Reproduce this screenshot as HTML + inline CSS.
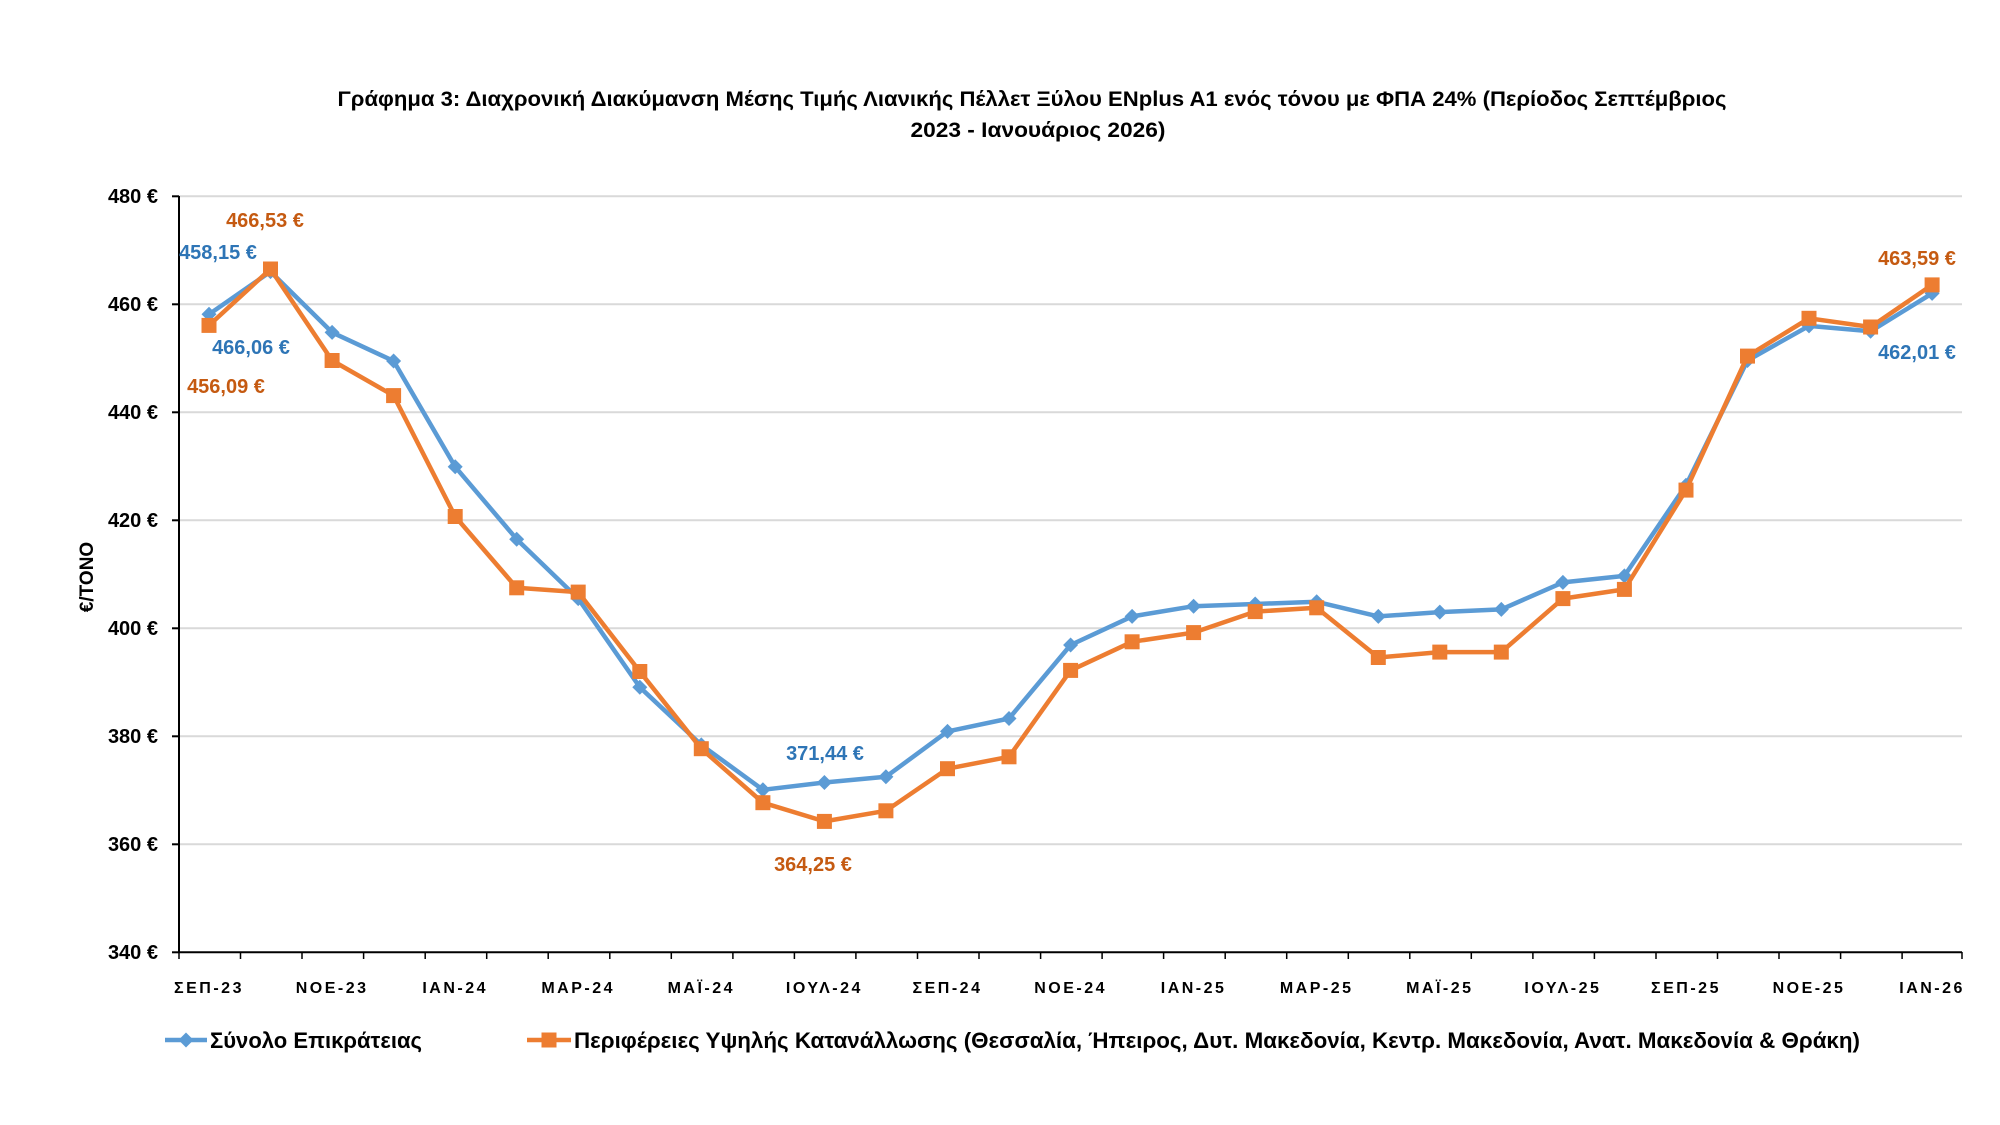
<!DOCTYPE html>
<html><head><meta charset="utf-8"><style>
html,body{margin:0;padding:0;background:#fff;}
svg{display:block;font-family:"Liberation Sans","DejaVu Sans",sans-serif;font-weight:bold;}
</style></head><body>
<svg width="2000" height="1125" viewBox="0 0 2000 1125" xmlns="http://www.w3.org/2000/svg">
<rect width="2000" height="1125" fill="#fff"/>
<text x="1032" y="106" font-size="21" text-anchor="middle" textLength="1389" lengthAdjust="spacingAndGlyphs">Γράφημα 3: Διαχρονική Διακύμανση Μέσης Τιμής Λιανικής Πέλλετ Ξύλου ENplus A1 ενός τόνου με ΦΠΑ 24% (Περίοδος Σεπτέμβριος</text>
<text x="1038" y="137" font-size="21" text-anchor="middle" textLength="255" lengthAdjust="spacingAndGlyphs">2023 - Ιανουάριος 2026)</text>
<g stroke="#d9d9d9" stroke-width="2">
<line x1="179" x2="1962" y1="196.3" y2="196.3"/><line x1="179" x2="1962" y1="304.3" y2="304.3"/>
<line x1="179" x2="1962" y1="412.3" y2="412.3"/><line x1="179" x2="1962" y1="520.3" y2="520.3"/>
<line x1="179" x2="1962" y1="628.3" y2="628.3"/><line x1="179" x2="1962" y1="736.3" y2="736.3"/>
<line x1="179" x2="1962" y1="844.3" y2="844.3"/>
</g>
<g stroke="#000" stroke-width="2">
<line x1="179" x2="179" y1="196" y2="952.3"/>
<line x1="179" x2="1962" y1="952.3" y2="952.3"/>
<line x1="172" x2="179" y1="196.3" y2="196.3"/><line x1="172" x2="179" y1="304.3" y2="304.3"/>
<line x1="172" x2="179" y1="412.3" y2="412.3"/><line x1="172" x2="179" y1="520.3" y2="520.3"/>
<line x1="172" x2="179" y1="628.3" y2="628.3"/><line x1="172" x2="179" y1="736.3" y2="736.3"/>
<line x1="172" x2="179" y1="844.3" y2="844.3"/><line x1="172" x2="179" y1="952.3" y2="952.3"/>
</g>
<path stroke="#000" stroke-width="1.5" d="M179 952v7M240.5 952v7M302 952v7M363.6 952v7M425.2 952v7M486.7 952v7M548.2 952v7M609.8 952v7M671.3 952v7M732.9 952v7M794.4 952v7M855.9 952v7M917.5 952v7M979 952v7M1040.6 952v7M1102.1 952v7M1163.6 952v7M1225.2 952v7M1286.7 952v7M1348.3 952v7M1409.8 952v7M1471.3 952v7M1532.9 952v7M1594.4 952v7M1656 952v7M1717.5 952v7M1779 952v7M1840.6 952v7M1902.1 952v7M1962 952v7"/>
<g font-size="20" text-anchor="end">
<text x="158" y="203">480 €</text><text x="158" y="311">460 €</text><text x="158" y="419">440 €</text>
<text x="158" y="527">420 €</text><text x="158" y="635">400 €</text><text x="158" y="743">380 €</text>
<text x="158" y="851">360 €</text><text x="158" y="959">340 €</text>
</g>
<text transform="translate(93,577) rotate(-90)" font-size="19" text-anchor="middle">€/ΤΟΝΟ</text>
<g font-size="16" text-anchor="middle" letter-spacing="2.5">
<text x="209" y="993">ΣΕΠ-23</text><text x="332.1" y="993">ΝΟΕ-23</text><text x="455.2" y="993">ΙΑΝ-24</text>
<text x="578.2" y="993">ΜΑΡ-24</text><text x="701.3" y="993">ΜΑΪ-24</text><text x="824.4" y="993">ΙΟΥΛ-24</text>
<text x="947.5" y="993">ΣΕΠ-24</text><text x="1070.6" y="993">ΝΟΕ-24</text><text x="1193.6" y="993">ΙΑΝ-25</text>
<text x="1316.7" y="993">ΜΑΡ-25</text><text x="1439.8" y="993">ΜΑΪ-25</text><text x="1562.9" y="993">ΙΟΥΛ-25</text>
<text x="1686" y="993">ΣΕΠ-25</text><text x="1809" y="993">ΝΟΕ-25</text><text x="1932.1" y="993">ΙΑΝ-26</text>
</g>
<defs>
<path id="dm" d="M0 -7.5L7.5 0L0 7.5L-7.5 0Z" fill="#5B9BD5"/>
<rect id="sq" x="-7.5" y="-7.5" width="15" height="15" fill="#ED7D31"/>
</defs>
<polyline fill="none" stroke="#5B9BD5" stroke-width="4.5" stroke-linejoin="round" points="209,314.3 270.5,271.6 332.1,332.4 393.6,361 455.2,466.8 516.7,539.2 578.2,598.6 639.8,687.2 701.3,744.9 762.9,789.8 824.4,782.5 885.9,776.8 947.5,731.4 1009,718.5 1070.6,645 1132.1,616.4 1193.6,606.2 1255.2,604 1316.7,601.8 1378.3,616.4 1439.8,612.1 1501.3,609.4 1562.9,582.4 1624.4,575.9 1686,485.2 1747.5,360.5 1809,325.9 1870.6,331.3 1932.1,293.4"/>
<g>
<use href="#dm" x="209" y="314.3"/><use href="#dm" x="270.5" y="271.6"/><use href="#dm" x="332.1" y="332.4"/><use href="#dm" x="393.6" y="361"/><use href="#dm" x="455.2" y="466.8"/><use href="#dm" x="516.7" y="539.2"/><use href="#dm" x="578.2" y="598.6"/><use href="#dm" x="639.8" y="687.2"/><use href="#dm" x="701.3" y="744.9"/><use href="#dm" x="762.9" y="789.8"/><use href="#dm" x="824.4" y="782.5"/><use href="#dm" x="885.9" y="776.8"/><use href="#dm" x="947.5" y="731.4"/><use href="#dm" x="1009" y="718.5"/><use href="#dm" x="1070.6" y="645"/><use href="#dm" x="1132.1" y="616.4"/><use href="#dm" x="1193.6" y="606.2"/><use href="#dm" x="1255.2" y="604"/><use href="#dm" x="1316.7" y="601.8"/><use href="#dm" x="1378.3" y="616.4"/><use href="#dm" x="1439.8" y="612.1"/><use href="#dm" x="1501.3" y="609.4"/><use href="#dm" x="1562.9" y="582.4"/><use href="#dm" x="1624.4" y="575.9"/><use href="#dm" x="1686" y="485.2"/><use href="#dm" x="1747.5" y="360.5"/><use href="#dm" x="1809" y="325.9"/><use href="#dm" x="1870.6" y="331.3"/><use href="#dm" x="1932.1" y="293.4"/>
</g>
<polyline fill="none" stroke="#ED7D31" stroke-width="4.5" stroke-linejoin="round" points="209,325.4 270.5,269 332.1,360.5 393.6,395.6 455.2,516.5 516.7,587.8 578.2,592.1 639.8,671.5 701.3,748.7 762.9,802.7 824.4,821.4 885.9,810.8 947.5,768.7 1009,756.8 1070.6,670.4 1132.1,641.8 1193.6,632.6 1255.2,611.6 1316.7,607.8 1378.3,657.5 1439.8,652.1 1501.3,652.1 1562.9,598.6 1624.4,589.4 1686,490.1 1747.5,356.1 1809,318.3 1870.6,327 1932.1,284.9"/>
<g>
<use href="#sq" x="209" y="325.4"/><use href="#sq" x="270.5" y="269"/><use href="#sq" x="332.1" y="360.5"/><use href="#sq" x="393.6" y="395.6"/><use href="#sq" x="455.2" y="516.5"/><use href="#sq" x="516.7" y="587.8"/><use href="#sq" x="578.2" y="592.1"/><use href="#sq" x="639.8" y="671.5"/><use href="#sq" x="701.3" y="748.7"/><use href="#sq" x="762.9" y="802.7"/><use href="#sq" x="824.4" y="821.4"/><use href="#sq" x="885.9" y="810.8"/><use href="#sq" x="947.5" y="768.7"/><use href="#sq" x="1009" y="756.8"/><use href="#sq" x="1070.6" y="670.4"/><use href="#sq" x="1132.1" y="641.8"/><use href="#sq" x="1193.6" y="632.6"/><use href="#sq" x="1255.2" y="611.6"/><use href="#sq" x="1316.7" y="607.8"/><use href="#sq" x="1378.3" y="657.5"/><use href="#sq" x="1439.8" y="652.1"/><use href="#sq" x="1501.3" y="652.1"/><use href="#sq" x="1562.9" y="598.6"/><use href="#sq" x="1624.4" y="589.4"/><use href="#sq" x="1686" y="490.1"/><use href="#sq" x="1747.5" y="356.1"/><use href="#sq" x="1809" y="318.3"/><use href="#sq" x="1870.6" y="327"/><use href="#sq" x="1932.1" y="284.9"/>
</g>
<g font-size="20" text-anchor="middle">
<text x="265" y="227" fill="#C55A11">466,53 €</text>
<text x="218" y="259" fill="#2E75B6">458,15 €</text>
<text x="251" y="354" fill="#2E75B6">466,06 €</text>
<text x="226" y="393" fill="#C55A11">456,09 €</text>
<text x="825" y="760" fill="#2E75B6">371,44 €</text>
<text x="813" y="871" fill="#C55A11">364,25 €</text>
<text x="1917" y="265" fill="#C55A11">463,59 €</text>
<text x="1917" y="359" fill="#2E75B6">462,01 €</text>
</g>
<line x1="165" x2="207" y1="1040" y2="1040" stroke="#5B9BD5" stroke-width="4.5"/>
<use href="#dm" x="186" y="1040"/>
<text x="210" y="1048" font-size="22" textLength="212" lengthAdjust="spacingAndGlyphs">Σύνολο Επικράτειας</text>
<line x1="527" x2="571" y1="1040" y2="1040" stroke="#ED7D31" stroke-width="4.5"/>
<use href="#sq" x="549" y="1040"/>
<text x="574" y="1048" font-size="22" textLength="1286" lengthAdjust="spacingAndGlyphs">Περιφέρειες Υψηλής Κατανάλλωσης (Θεσσαλία, Ήπειρος, Δυτ. Μακεδονία, Κεντρ. Μακεδονία, Ανατ. Μακεδονία &amp; Θράκη)</text>
</svg>
</body></html>
